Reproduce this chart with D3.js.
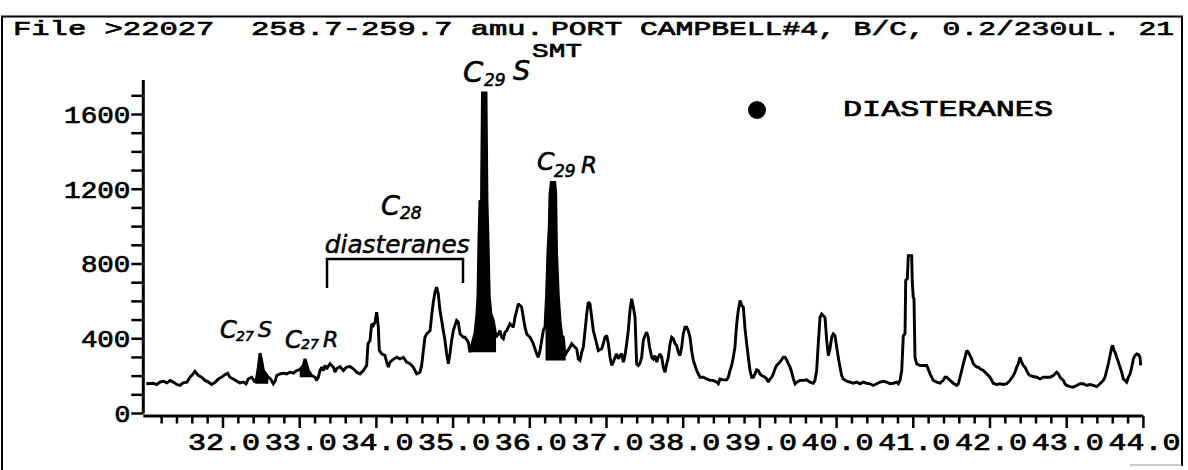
<!DOCTYPE html>
<html>
<head>
<meta charset="utf-8">
<script src="https://cdn.jsdelivr.net/npm/d3@7"></script>
<style>
  html, body { margin: 0; padding: 0; background: #fff; }
  svg { display: block; }
  text { white-space: pre; }
</style>
</head>
<body>
<svg id="chart" width="1188" height="470"></svg>
<script>
// Mass chromatogram, m/z 258.7-259.7, retention time (min) vs abundance
const retentionTime = [
  31.00,31.09,31.135,31.18,31.22,31.27,31.31,31.35,31.40,31.44,31.48,31.53,31.57,31.61,31.635,31.68,31.72,31.765,31.81,31.85,
  31.90,31.94,31.98,32.03,32.06,32.09,32.135,32.18,32.22,32.265,32.30,32.33,32.375,32.417,32.44,32.46,32.483,32.504,32.526,32.56,
  32.59,32.62,32.656,32.68,32.70,32.745,32.79,32.83,32.875,32.92,32.96,33.00,33.047,33.069,33.09,33.113,33.156,33.20,33.22,33.243,
  33.265,33.287,33.308,33.33,33.35,33.395,33.44,33.46,33.48,33.526,33.57,33.61,33.656,33.70,33.743,33.786,33.83,33.873,33.89,33.917,
  33.938,33.96,33.982,34.004,34.025,34.038,34.07,34.112,34.134,34.156,34.177,34.22,34.264,34.307,34.351,34.394,34.438,34.481,34.525,34.568,
  34.59,34.612,34.633,34.655,34.70,34.72,34.742,34.764,34.785,34.807,34.829,34.851,34.872,34.894,34.916,34.938,34.959,34.981,35.003,35.024,
  35.046,35.068,35.09,35.111,35.133,35.155,35.198,35.22,35.259,35.285,35.311,35.324,35.337,35.35,35.37,35.383,35.429,35.442,35.455,35.472,
  35.494,35.524,35.546,35.559,35.589,35.611,35.633,35.655,35.677,35.70,35.72,35.742,35.785,35.807,35.829,35.85,35.872,35.894,35.915,35.937,
  35.96,36.003,36.025,36.046,36.09,36.111,36.133,36.155,36.176,36.198,36.218,36.237,36.254,36.263,36.28,36.325,36.338,36.348,36.372,36.394,
  36.416,36.437,36.459,36.481,36.524,36.546,36.59,36.612,36.632,36.655,36.677,36.698,36.72,36.742,36.763,36.785,36.807,36.828,36.85,36.872,
  36.893,36.937,36.958,36.98,37.003,37.024,37.046,37.068,37.089,37.111,37.133,37.154,37.176,37.198,37.22,37.241,37.263,37.284,37.306,37.328,
  37.35,37.372,37.393,37.415,37.437,37.459,37.48,37.502,37.524,37.545,37.558,37.589,37.61,37.632,37.654,37.675,37.698,37.72,37.741,37.763,
  37.785,37.806,37.828,37.85,37.871,37.893,37.915,37.936,37.958,37.98,38.001,38.023,38.045,38.066,38.089,38.11,38.132,38.154,38.176,38.197,
  38.219,38.262,38.306,38.349,38.392,38.437,38.458,38.48,38.523,38.567,38.588,38.61,38.632,38.653,38.675,38.697,38.718,38.741,38.763,38.784,
  38.806,38.828,38.849,38.871,38.893,38.914,38.936,38.958,38.98,39.001,39.023,39.067,39.088,39.11,39.132,39.154,39.175,39.197,39.219,39.262,
  39.305,39.327,39.349,39.371,39.393,39.415,39.436,39.458,39.48,39.523,39.566,39.61,39.653,39.696,39.718,39.74,39.761,39.784,39.806,39.827,
  39.849,39.871,39.892,39.914,39.936,39.957,39.979,40.001,40.022,40.044,40.066,40.087,40.132,40.175,40.218,40.262,40.305,40.348,40.392,40.436,
  40.478,40.522,40.566,40.609,40.653,40.696,40.74,40.784,40.804,40.827,40.849,40.87,40.892,40.901,40.922,40.935,40.979,40.986,40.999,41.009,
  41.022,41.044,41.087,41.175,41.193,41.218,41.24,41.261,41.305,41.348,41.391,41.413,41.436,41.478,41.522,41.566,41.587,41.609,41.631,41.652,
  41.697,41.718,41.739,41.761,41.783,41.827,41.848,41.87,41.913,41.957,42.0,42.043,42.087,42.13,42.173,42.218,42.261,42.304,42.326,42.348,
  42.369,42.391,42.413,42.434,42.456,42.499,42.522,42.564,42.609,42.652,42.695,42.782,42.826,42.869,42.891,42.913,42.956,42.978,43.0,43.043,
  43.086,43.13,43.173,43.217,43.26,43.304,43.346,43.391,43.434,43.477,43.499,43.521,43.543,43.565,43.587,43.60,43.617,43.63,43.652,43.674,
  43.695,43.717,43.738,43.76,43.782,43.804,43.826,43.848,43.869,43.891,43.913,43.934,43.956,43.965
];
const abundance = [
  159,162,155,168,173,164,177,168,155,150,164,168,194,212,226,203,194,177,168,155,
  168,185,194,209,216,194,185,173,164,168,159,185,194,168,194,248,323,284,230,212,
  194,185,159,173,203,212,216,212,221,216,230,234,257,292,266,230,203,194,177,194,
  230,248,230,257,239,266,248,221,239,251,230,248,251,239,221,212,230,257,373,391,
  480,471,489,542,462,337,319,310,275,248,275,290,301,292,301,275,266,248,212,221,
  257,337,408,426,444,524,596,649,676,640,551,498,444,391,319,266,319,391,444,471,
  498,489,426,417,408,408,382,328,390,430,535,625,930,1135,1140,1715,1715,1135,930,622,
  533,498,444,408,426,444,408,400,435,444,462,480,462,515,551,587,578,569,515,462,
  426,408,391,373,319,301,337,391,444,462,630,870,1000,1177,1237,1237,1177,870,630,498,
  417,408,310,328,355,373,355,346,292,284,328,355,444,533,596,587,515,444,408,373,
  337,346,373,408,417,373,301,257,275,301,319,292,310,319,275,310,373,444,551,614,
  569,515,266,257,270,301,391,417,435,408,364,301,292,310,275,301,319,301,248,221,
  266,301,373,408,400,373,364,328,310,355,426,462,462,444,408,337,284,257,230,212,
  194,194,185,177,177,168,159,185,180,180,194,230,257,301,355,480,551,605,578,569,
  453,373,301,230,194,194,212,234,230,212,203,194,185,168,185,194,212,239,257,275,
  301,301,287,266,248,221,185,159,168,177,177,180,168,162,177,230,373,515,533,524,
  512,391,310,346,408,426,417,355,301,248,203,185,173,168,162,168,159,168,162,159,
  150,159,168,173,168,159,162,168,159,177,230,417,426,712,721,845,845,712,622,614,
  301,266,257,257,239,212,194,177,168,162,177,194,194,177,162,150,159,194,230,266,
  337,328,310,292,266,248,248,239,230,212,194,162,155,159,155,159,177,203,221,248,
  266,301,275,257,248,212,203,198,194,185,194,194,203,221,212,194,177,159,150,144,
  141,150,159,159,150,155,150,144,159,177,194,230,266,310,355,364,337,328,301,275,
  248,221,185,177,168,194,212,248,292,310,319,316,301,257
];

// Axis ticks
const xTickLabels = ["32.0","33.0","34.0","35.0","36.0","37.0","38.0","39.0","40.0","41.0","42.0","43.0","44.0"];
const yTickLabels = ["0","400","800","1200","1600"];

// Shaded (blackened) peaks: retention window and integration base
const shadedName  = ["C27S","C27R","C29S","C29R"];
const shadedStart = [32.42, 33.00, 35.21, 36.205];
const shadedEnd   = [32.59, 33.16, 35.56, 36.468];
const shadedBase  = [159, 194, 328, 284];

// Hand-written peak annotations (anchor in data units)
const annoMain   = ["C","C","C","C","C"];
const annoSub    = ["27","27","28","29","29"];
const annoSuffix = ["S","R","","S","R"];
const annoTime   = [31.961, 32.808, 34.06, 35.129, 36.094];
const annoValue  = [404, 350, 1062, 1774, 1303];

const titleLeft  = "File >22027  258.7-259.7 amu.";
const titleRight = "PORT CAMPBELL#4, B/C, 0.2/230uL. 21";
const titleSub   = "SMT";
const legendLabel = "DIASTERANES";
const bracketLabel = "diasteranes";

const ink = "#000";
const mono = "'Liberation Mono','DejaVu Sans Mono',monospace";
const hand = "'DejaVu Sans','Liberation Sans',sans-serif";

const svg = d3.select("#chart");

const x = d3.scaleLinear().domain([31, 44]).range([146.3, 1143.4]);
const y = d3.scaleLinear().domain([0, 1600]).range([413.5, 114.5]);

// Outer frame
svg.append("path")
  .attr("d", "M2,470V16.5H1182V466")
  .attr("fill", "none").attr("stroke", ink).attr("stroke-width", 2);
svg.append("line")
  .attr("x1", 1130).attr("x2", 1182).attr("y1", 465).attr("y2", 465)
  .attr("stroke", "#999").attr("stroke-width", 1);

// Plotter-style monospaced text, stretched to the plotter's character pitch
function monoText(str, px, py, size, len, anchor) {
  return svg.append("text")
    .attr("x", px).attr("y", py)
    .attr("font-family", mono).attr("font-size", size)
    .attr("text-anchor", anchor || "start")
    .attr("textLength", len).attr("lengthAdjust", "spacingAndGlyphs")
    .attr("fill", ink).attr("stroke", ink).attr("stroke-width", 0.7)
    .text(str);
}
monoText(titleLeft, 13, 35, 21, 531);
monoText(titleRight, 551, 35, 21, 623);
monoText(titleSub, 532, 57, 21, 50);

// Y axis
const yAxisX = 143.3;
svg.append("line")
  .attr("x1", yAxisX).attr("x2", yAxisX)
  .attr("y1", y(0)).attr("y2", y(1785))
  .attr("stroke", ink).attr("stroke-width", 3);
svg.append("g").selectAll("line")
  .data(d3.range(0, 18).map(i => i * 100))
  .join("line")
  .attr("x1", yAxisX - 12).attr("x2", yAxisX)
  .attr("y1", d => y(d)).attr("y2", d => y(d))
  .attr("stroke", ink).attr("stroke-width", 2.5);
yTickLabels.forEach(lbl => {
  monoText(lbl, yAxisX - 13, y(+lbl) + 8.4, 23, lbl.length * 16.8 - 1, "end");
});

// X axis
const xAxisY = 416;
svg.append("line")
  .attr("x1", yAxisX).attr("x2", x(44))
  .attr("y1", xAxisY).attr("y2", xAxisY)
  .attr("stroke", ink).attr("stroke-width", 3);
svg.append("g").selectAll("line")
  .data(d3.range(156, 221))
  .join("line")
  .attr("x1", i => x(i / 5)).attr("x2", i => x(i / 5))
  .attr("y1", xAxisY)
  .attr("y2", i => xAxisY + (i % 5 === 0 ? 12 : 7.5))
  .attr("stroke", ink).attr("stroke-width", 2.5);
xTickLabels.forEach(lbl => {
  monoText(lbl, x(+lbl) - 35, 450, 23, 72);
});

// Chromatogram trace
const pts = retentionTime.map((t, i) => [t, abundance[i]]);

function traceAt(t) {
  const i = d3.bisector(d => d[0]).left(pts, t);
  if (i <= 0) return pts[0][1];
  if (i >= pts.length) return pts[pts.length - 1][1];
  const a = pts[i - 1], b = pts[i];
  return a[1] + (b[1] - a[1]) * (t - a[0]) / (b[0] - a[0]);
}

// Blackened peak areas
shadedName.forEach((name, k) => {
  const t0 = shadedStart[k], t1 = shadedEnd[k], base = shadedBase[k];
  const seg = [[t0, traceAt(t0)]]
    .concat(pts.filter(d => d[0] > t0 && d[0] < t1))
    .concat([[t1, traceAt(t1)]]);
  svg.append("path")
    .datum(seg)
    .attr("class", "peak-" + name)
    .attr("d", d3.area()
      .x(d => x(d[0]))
      .y0(y(base))
      .y1(d => y(Math.max(d[1], base))))
    .attr("fill", ink);
});

svg.append("path")
  .datum(pts)
  .attr("d", d3.line().x(d => x(d[0])).y(d => y(d[1])))
  .attr("fill", "none")
  .attr("stroke", ink)
  .attr("stroke-width", 2.9)
  .attr("stroke-linejoin", "miter")
  .attr("stroke-miterlimit", 2);

// Peak annotations
const mainSize   = [24, 24, 27, 29, 25];
const subSize    = [14, 14, 17, 17, 17];
const subDx      = [16, 16, 19, 21, 17];
const subDy      = [3, 1, 4, 4, 7];
const suffixDx   = [38, 38, 0, 50, 44];
const suffixDy   = [-1, -1, 0, -2, 3];
annoMain.forEach((c, k) => {
  const ax = x(annoTime[k]), ay = y(annoValue[k]);
  const g = svg.append("g")
    .attr("font-family", hand).attr("font-style", "italic")
    .attr("fill", ink).attr("stroke", ink).attr("stroke-width", 0.6);
  g.append("text").attr("x", ax).attr("y", ay)
    .attr("font-size", mainSize[k]).text(c);
  g.append("text").attr("x", ax + subDx[k]).attr("y", ay + subDy[k])
    .attr("font-size", subSize[k]).text(annoSub[k]);
  if (annoSuffix[k]) {
    g.append("text").attr("x", ax + suffixDx[k]).attr("y", ay + suffixDy[k])
      .attr("font-size", mainSize[k] - 2).text(annoSuffix[k]);
  }
});

// C28 diasteranes bracket
const brStart = 33.356, brEnd = 35.129;
svg.append("path")
  .attr("d", `M${x(brStart)},${y(672)}V${y(827)}H${x(brEnd)}V${y(698)}`)
  .attr("fill", "none").attr("stroke", ink).attr("stroke-width", 2.5);
svg.append("text")
  .attr("x", x(33.327)).attr("y", y(859))
  .attr("font-family", hand).attr("font-style", "italic")
  .attr("font-size", 25)
  .attr("textLength", 145).attr("lengthAdjust", "spacingAndGlyphs")
  .attr("fill", ink).attr("stroke", ink).attr("stroke-width", 0.5)
  .text(bracketLabel);

// Legend
svg.append("circle")
  .attr("cx", 757).attr("cy", 110).attr("r", 9)
  .attr("fill", ink);
monoText(legendLabel, 843, 116, 22.5, 210);
</script>
</body>
</html>
